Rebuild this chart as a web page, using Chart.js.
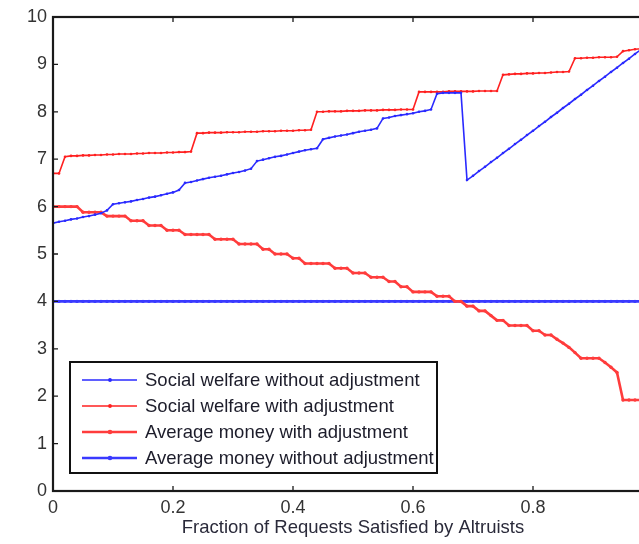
<!DOCTYPE html>
<html><head><meta charset="utf-8">
<script src="https://cdn.jsdelivr.net/npm/chart.js@4.4.1/dist/chart.umd.min.js"></script>
<style>
html,body{margin:0;padding:0;background:#fff;overflow:hidden;}
#wrap{width:639px;height:544px;overflow:hidden;position:relative;}
canvas{display:block;}
</style></head><body>
<div id="wrap"><canvas id="c" width="662" height="544"></canvas></div>
<script>
const xValues = [0.00,0.01,0.02,0.03,0.04,0.05,0.06,0.07,0.08,0.09,
 0.10,0.11,0.12,0.13,0.14,0.15,0.16,0.17,0.18,0.19,
 0.20,0.21,0.22,0.23,0.24,0.25,0.26,0.27,0.28,0.29,
 0.30,0.31,0.32,0.33,0.34,0.35,0.36,0.37,0.38,0.39,
 0.40,0.41,0.42,0.43,0.44,0.45,0.46,0.47,0.48,0.49,
 0.50,0.51,0.52,0.53,0.54,0.55,0.56,0.57,0.58,0.59,
 0.60,0.61,0.62,0.63,0.64,0.65,0.66,0.67,0.68,0.69,
 0.70,0.71,0.72,0.73,0.74,0.75,0.76,0.77,0.78,0.79,
 0.80,0.81,0.82,0.83,0.84,0.85,0.86,0.87,0.88,0.89,
 0.90,0.91,0.92,0.93,0.94,0.95,0.96,0.97,0.98];

const socialWelfareNoAdj = [5.65,5.68,5.70,5.73,5.75,5.78,5.80,5.83,5.86,5.92,
 6.05,6.07,6.09,6.11,6.14,6.16,6.19,6.21,6.24,6.27,
 6.30,6.35,6.50,6.52,6.55,6.58,6.61,6.63,6.65,6.68,
 6.71,6.73,6.76,6.80,6.96,6.99,7.02,7.05,7.07,7.10,
 7.13,7.16,7.19,7.21,7.23,7.42,7.45,7.48,7.50,7.52,
 7.55,7.58,7.60,7.62,7.65,7.86,7.88,7.91,7.93,7.95,
 7.97,8.00,8.02,8.05,8.38,8.40,8.40,8.40,8.40,6.56,
 6.65,6.75,6.84,6.94,7.03,7.13,7.22,7.32,7.41,7.51,
 7.60,7.70,7.79,7.89,7.98,8.08,8.17,8.27,8.36,8.46,
 8.55,8.65,8.74,8.84,8.93,9.03,9.12,9.22,9.31];

const socialWelfareAdj = [6.70,6.70,7.05,7.07,7.07,7.08,7.08,7.09,7.09,7.10,
 7.10,7.11,7.11,7.11,7.12,7.12,7.13,7.13,7.13,7.14,
 7.14,7.15,7.15,7.16,7.55,7.55,7.56,7.56,7.56,7.57,
 7.57,7.57,7.58,7.58,7.58,7.59,7.59,7.59,7.60,7.60,
 7.60,7.61,7.61,7.62,8.00,8.00,8.01,8.01,8.01,8.02,
 8.02,8.02,8.03,8.03,8.03,8.04,8.04,8.04,8.05,8.05,
 8.05,8.42,8.42,8.42,8.42,8.42,8.43,8.43,8.43,8.43,
 8.43,8.44,8.44,8.44,8.44,8.78,8.79,8.80,8.80,8.81,
 8.81,8.82,8.82,8.83,8.84,8.84,8.85,9.13,9.13,9.14,
 9.14,9.15,9.15,9.15,9.16,9.28,9.30,9.32,9.33];

const avgMoneyAdj = [6.00,6.00,6.00,6.00,6.00,5.88,5.88,5.88,5.88,5.80,
 5.80,5.80,5.80,5.70,5.70,5.70,5.60,5.60,5.60,5.50,
 5.50,5.50,5.41,5.41,5.41,5.41,5.41,5.31,5.31,5.31,
 5.31,5.21,5.21,5.21,5.21,5.10,5.10,5.00,5.00,5.00,
 4.91,4.91,4.80,4.80,4.80,4.80,4.80,4.70,4.70,4.70,
 4.60,4.60,4.60,4.51,4.51,4.51,4.42,4.42,4.31,4.31,
 4.20,4.20,4.20,4.20,4.11,4.11,4.11,4.00,4.00,3.90,
 3.90,3.80,3.80,3.70,3.60,3.60,3.49,3.49,3.49,3.49,
 3.38,3.38,3.29,3.29,3.20,3.12,3.03,2.92,2.80,2.80,
 2.80,2.80,2.71,2.61,2.50,1.92,1.92,1.92,1.92];

const avgMoneyNoAdj = [4,4,4,4,4,4,4,4,4,4,
 4,4,4,4,4,4,4,4,4,4,
 4,4,4,4,4,4,4,4,4,4,
 4,4,4,4,4,4,4,4,4,4,
 4,4,4,4,4,4,4,4,4,4,
 4,4,4,4,4,4,4,4,4,4,
 4,4,4,4,4,4,4,4,4,4,
 4,4,4,4,4,4,4,4,4,4,
 4,4,4,4,4,4,4,4,4,4,
 4,4,4,4,4,4,4,4,4];

const seriesLabels = ['Social welfare without adjustment','Social welfare with adjustment','Average money with adjustment','Average money without adjustment'];
const xTicks = [0,0.2,0.4,0.6,0.8,1];
const yTicks = [0,1,2,3,4,5,6,7,8,9,10];
const xTitle = 'Fraction of Requests Satisfied by Altruists';

const FONT = '"Liberation Sans", Arial, Helvetica, sans-serif';
const toXY = arr => arr.map((v, i) => ({x: xValues[i], y: v}));

const styles = [
  {color: '#2a2aff', width: 1.6, r: 1.3},
  {color: '#ff2020', width: 1.6, r: 1.3},
  {color: '#ff3c3c', width: 2.6, r: 1.7},
  {color: '#3a3aff', width: 2.6, r: 1.7}
];
const seriesData = [socialWelfareNoAdj, socialWelfareAdj, avgMoneyAdj, avgMoneyNoAdj];

const frame = {
  id: 'frame',
  afterDatasetsDraw(chart) {
    const {ctx, chartArea: {left, right, top, bottom}, scales: {x, y}} = chart;
    ctx.save();
    ctx.strokeStyle = '#1a1a1a';
    ctx.lineWidth = 1.3;
    x.ticks.forEach(t => {
      const px = x.getPixelForValue(t.value);
      ctx.beginPath();
      ctx.moveTo(px, bottom); ctx.lineTo(px, bottom - 5);
      ctx.moveTo(px, top); ctx.lineTo(px, top + 5);
      ctx.stroke();
    });
    y.ticks.forEach(t => {
      const py = y.getPixelForValue(t.value);
      ctx.beginPath();
      ctx.moveTo(left, py); ctx.lineTo(left + 5, py);
      ctx.moveTo(right, py); ctx.lineTo(right - 5, py);
      ctx.stroke();
    });
    ctx.lineWidth = 2.2;
    ctx.strokeRect(left, top, right - left, bottom - top);

    // legend box
    const lx = left + 17, ly = bottom - 129, lw = 367, lh = 111;
    ctx.fillStyle = '#fff';
    ctx.fillRect(lx, ly, lw, lh);
    ctx.lineWidth = 2;
    ctx.strokeStyle = '#111';
    ctx.strokeRect(lx, ly, lw, lh);
    chart.data.datasets.forEach((ds, i) => {
      const yy = ly + 18 + i * 26;
      ctx.strokeStyle = ds.borderColor;
      ctx.lineWidth = ds.borderWidth;
      ctx.beginPath(); ctx.moveTo(lx + 12, yy); ctx.lineTo(lx + 67, yy); ctx.stroke();
      ctx.fillStyle = ds.borderColor;
      ctx.beginPath(); ctx.arc(lx + 40, yy, ds.pointRadius + 0.6, 0, Math.PI * 2); ctx.fill();
      ctx.fillStyle = '#1c1c2a';
      ctx.font = '18.5px ' + FONT;
      ctx.textBaseline = 'middle';
      ctx.textAlign = 'left';
      ctx.fillText(ds.label, lx + 75, yy + 1);
    });
    ctx.restore();
  }
};

new Chart(document.getElementById('c'), {
  type: 'line',
  data: {
    datasets: seriesData.map((arr, i) => ({
      label: seriesLabels[i],
      data: toXY(arr),
      borderColor: styles[i].color,
      backgroundColor: styles[i].color,
      borderWidth: styles[i].width,
      pointRadius: styles[i].r,
      pointBorderWidth: 0,
      pointHoverRadius: 0,
      tension: 0,
      fill: false
    }))
  },
  options: {
    responsive: false,
    animation: false,
    events: [],
    layout: {padding: {top: 17, right: 9, left: 0, bottom: 0}},
    plugins: {legend: {display: false}, tooltip: {enabled: false}},
    scales: {
      x: {
        type: 'linear', min: 0, max: 1,
        afterBuildTicks: s => { s.ticks = xTicks.map(v => ({value: v})); },
        afterFit: s => { s.height = 53; s.paddingLeft = 0; s.paddingRight = 0; },
        grid: {display: false, drawTicks: false},
        border: {display: false},
        ticks: {padding: 6, color: '#333', font: {size: 18, family: FONT}, maxRotation: 0, autoSkip: false},
        title: {display: true, text: xTitle, color: '#2a2a3a', font: {size: 18.5, family: FONT}, padding: {top: 0, bottom: 5}}
      },
      y: {
        type: 'linear', min: 0, max: 10,
        afterBuildTicks: s => { s.ticks = yTicks.map(v => ({value: v})); },
        afterFit: s => { s.width = 53; s.paddingTop = 0; s.paddingBottom = 0; },
        grid: {display: false, drawTicks: false},
        border: {display: false},
        ticks: {padding: 6, color: '#333', font: {size: 18, family: FONT}, autoSkip: false}
      }
    }
  },
  plugins: [frame]
});
</script>
</body></html>
